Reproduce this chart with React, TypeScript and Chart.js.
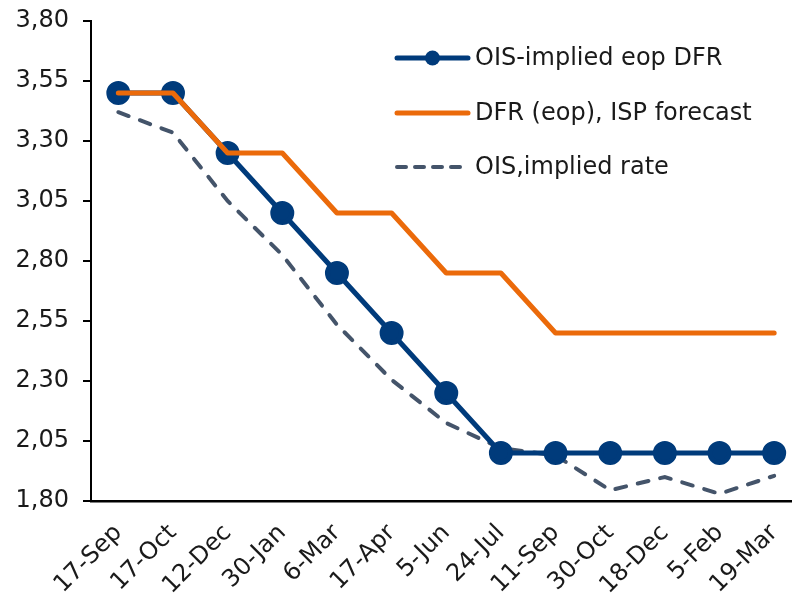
import React, { useEffect, useRef } from "react";
import { Chart, registerables } from "chart.js";

Chart.register(...registerables);

const categories = ["17-Sep", "17-Oct", "12-Dec", "30-Jan", "6-Mar", "17-Apr", "5-Jun", "24-Jul", "11-Sep", "30-Oct", "18-Dec", "5-Feb", "19-Mar"];
const oisEopDfr = [3.5, 3.5, 3.25, 3.0, 2.75, 2.5, 2.25, 2.0, 2.0, 2.0, 2.0, 2.0, 2.0];
const dfrIspForecast = [3.5, 3.5, 3.25, 3.25, 3.0, 3.0, 2.75, 2.75, 2.5, 2.5, 2.5, 2.5, 2.5];
const oisImpliedRate = [3.42, 3.335, 3.05, 2.825, 2.535, 2.305, 2.125, 2.02, 1.99, 1.845, 1.9, 1.83, 1.905];
const seriesLabels = ["OIS-implied eop DFR", "DFR (eop), ISP forecast", "OIS,implied rate"];
const yTicks = [1.8, 2.05, 2.3, 2.55, 2.8, 3.05, 3.3, 3.55, 3.8];

const FONT = "'DejaVu Sans', sans-serif";

const legendPlugin = {
  id: "customLegend",
  afterDraw(chart: any) {
    const ctx = chart.ctx;
    const x0 = 397;
    const x1 = 468;
    const tx = 475;
    const ys = [58, 113, 167];
    ctx.save();
    chart.data.datasets.forEach((ds: any, i: number) => {
      const y = ys[i];
      ctx.beginPath();
      ctx.strokeStyle = ds.borderColor;
      ctx.lineWidth = ds.borderWidth;
      ctx.lineCap = "round";
      ctx.setLineDash(ds.borderDash ? [9, 9] : []);
      ctx.moveTo(x0, y);
      ctx.lineTo(x1, y);
      ctx.stroke();
      ctx.setLineDash([]);
      if (ds.pointRadius > 0) {
        ctx.beginPath();
        ctx.fillStyle = ds.pointBackgroundColor;
        ctx.arc((x0 + x1) / 2, y, 7.5, 0, Math.PI * 2);
        ctx.fill();
      }
      ctx.fillStyle = "#1a1a1a";
      ctx.font = `24px ${FONT}`;
      ctx.textBaseline = "middle";
      ctx.textAlign = "left";
      ctx.fillText(ds.label, tx, y + 1);
    });
    ctx.restore();
  },
};

export default function App() {
  const ref = useRef<HTMLCanvasElement>(null);
  useEffect(() => {
    if (!ref.current) return;
    const chart = new Chart(ref.current, {
      type: "line",
      data: {
        labels: categories,
        datasets: [
          {
            label: seriesLabels[0],
            data: oisEopDfr,
            borderColor: "#003B7B",
            backgroundColor: "#003B7B",
            pointBackgroundColor: "#003B7B",
            pointBorderColor: "#003B7B",
            borderWidth: 5,
            pointRadius: 9.5,
            pointHoverRadius: 9.5,
            tension: 0,
            order: 1,
          },
          {
            label: seriesLabels[1],
            data: dfrIspForecast,
            borderColor: "#EB6A0A",
            backgroundColor: "#EB6A0A",
            borderWidth: 5,
            pointRadius: 0,
            borderCapStyle: "round",
            borderJoinStyle: "round",
            tension: 0,
            order: 0,
          },
          {
            label: seriesLabels[2],
            data: oisImpliedRate,
            borderColor: "#44546A",
            backgroundColor: "#44546A",
            borderWidth: 4,
            borderDash: [11, 12],
            borderCapStyle: "round",
            pointRadius: 0,
            tension: 0,
            order: 2,
          },
        ],
      },
      options: {
        responsive: false,
        animation: false,
        layout: { padding: { top: 21, right: 0, left: 0, bottom: 0 } },
        plugins: { legend: { display: false }, tooltip: { enabled: false } },
        scales: {
          x: {
            offset: true,
            grid: { display: false, drawTicks: false },
            border: { display: true, color: "#000", width: 2.5 },
            ticks: {
              font: { family: FONT, size: 24 },
              color: "#1a1a1a",
              maxRotation: 45,
              minRotation: 45,
              padding: 18,
              autoSkip: false,
            },
            afterFit(scale: any) {
              scale.height = 96;
            },
          },
          y: {
            min: 1.8,
            max: 3.8,
            afterBuildTicks(scale: any) {
              scale.ticks = yTicks.map((v) => ({ value: v }));
            },
            grid: {
              drawOnChartArea: false,
              drawTicks: true,
              tickLength: 8,
              color: "#000",
              lineWidth: 2,
            },
            border: { display: true, color: "#000", width: 2 },
            ticks: {
              font: { family: FONT, size: 24 },
              color: "#1a1a1a",
              padding: 14,
              callback: (v: any) => Number(v).toFixed(2).replace(".", ","),
            },
            afterFit(scale: any) {
              scale.width = 91;
              scale.paddingTop = 0;
              scale.paddingBottom = 0;
            },
          },
        },
      },
      plugins: [legendPlugin],
    });
    return () => chart.destroy();
  }, []);
  return (
    <div style={{ position: "absolute", left: 0, top: 0, width: 792, height: 597, overflow: "hidden", background: "#fff" }}>
      <canvas ref={ref} width={816} height={597} style={{ display: "block" }} />
    </div>
  );
}
